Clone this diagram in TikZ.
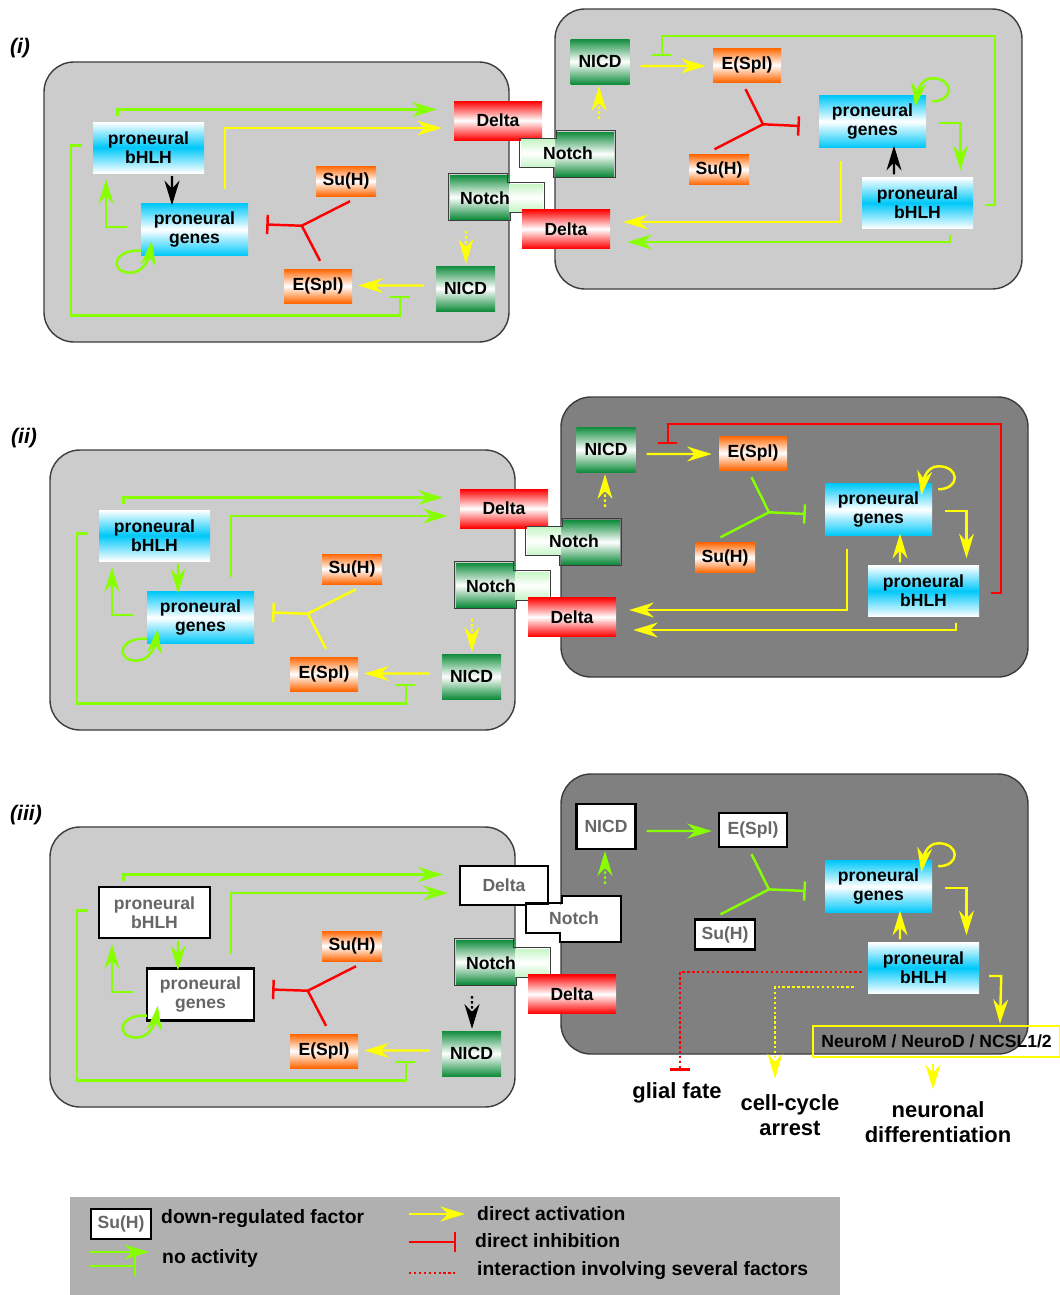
\documentclass[tikz,border=0pt]{standalone}
\usepackage{fontspec}
\setmainfont{Liberation Sans}
\usepackage{tikz}
\usetikzlibrary{arrows.meta}
\usetikzlibrary{calc}
\newcommand{\pxu}{0.02cm}
\definecolor{cellgray}{RGB}{204,204,204}
\definecolor{celldark}{RGB}{128,128,128}
\definecolor{cellline}{RGB}{60,60,60}
\definecolor{actyellow}{RGB}{255,255,0}
\definecolor{offgreen}{RGB}{136,255,0}
\definecolor{inhred}{RGB}{255,0,0}
\definecolor{pcyan}{RGB}{0,200,250}
\definecolor{ngreen}{RGB}{16,140,60}
\definecolor{lgreen}{RGB}{200,245,200}
\definecolor{eorange}{RGB}{255,102,0}
\definecolor{offtext}{RGB}{102,102,102}
\definecolor{legendgray}{RGB}{176,176,176}

\begin{document}
\begin{tikzpicture}[x=0.02cm,y=-0.02cm,line width=1.4pt,
    box/.style={rectangle,inner sep=0pt,align=center,font=\bfseries\fontsize{10}{11}\selectfont},
    off/.style={box,fill=white,draw=black,line width=1.3pt,text=offtext},
    blank/.style={box,fill=white},
    bhlh size/.style={minimum width=111*\pxu,minimum height=51*\pxu},
    genes size/.style={minimum width=107*\pxu,minimum height=52*\pxu},
    delta size/.style={minimum width=88*\pxu,minimum height=39*\pxu},
    notch size/.style={minimum width=59*\pxu,minimum height=44*\pxu},
    ext size/.style={minimum width=34*\pxu,minimum height=27*\pxu},
    nicd size/.style={minimum width=59*\pxu,minimum height=45*\pxu},
    espl size/.style={minimum width=68*\pxu,minimum height=34*\pxu},
    suh size/.style={minimum width=60*\pxu,minimum height=30*\pxu},
    bhlh node/.style={box,bhlh size,top color=white,bottom color=white,middle color=pcyan},
    genes node/.style={box,genes size,top color=pcyan,bottom color=pcyan,middle color=white},
    delta node/.style={box,delta size,top color=inhred,bottom color=inhred,middle color=white},
    notch node/.style={box,notch size,top color=ngreen,bottom color=ngreen,middle color=white},
    ext node/.style={box,ext size,top color=lgreen,bottom color=lgreen,middle color=white},
    nicd node/.style={box,nicd size,top color=ngreen,bottom color=ngreen,middle color=white},
    espl node/.style={box,espl size,top color=eorange,bottom color=eorange,middle color=white},
    suh node/.style={box,suh size,top color=eorange,bottom color=eorange,middle color=white},
    out label/.style={inner sep=0pt,align=center,font=\bfseries\fontsize{12.5}{14}\selectfont},
    legend text/.style={anchor=west,inner sep=0pt,font=\bfseries\fontsize{11}{13}\selectfont},
    panel label/.style={inner sep=0pt,font=\bfseries\itshape\fontsize{12}{14}\selectfont},
    cell/.style={rounded corners=30*\pxu,draw=cellline,line width=0.8pt},
    outline/.style={draw=cellline,line width=0.6pt},
    offline/.style={draw=black,line width=1.3pt},
    act/.style={-{Stealth[length=14pt,width=8.5pt,inset=4.5pt]}},
    inh/.style={-{Bar[width=11pt]}},
    dots/.style={dash pattern=on 1.4pt off 1.4pt},
    gact/.style={act,draw=offgreen}, yact/.style={act,draw=actyellow}, kact/.style={act,draw=black},
    ginh/.style={inh,draw=offgreen}, yinh/.style={inh,draw=actyellow}, rinh/.style={inh,draw=inhred},
    gline/.style={draw=offgreen}, yline/.style={draw=actyellow}, rline/.style={draw=inhred}]
  \useasboundingbox (0,0) rectangle (1060,1295);

  \node[panel label] (labi) at (20,48) {(i)};
  \node[panel label] (labii) at (24,438) {(ii)};
  \node[panel label] (labiii) at (26,815) {(iii)};

  \begin{scope}
    \draw[cell,fill=cellgray] (44,62) rectangle (509,342);
    \draw[cell,fill=cellgray] (555,9) rectangle (1022,289);
    % left cell
    \node[bhlh node] (bhlhL) at (148.5,147.5) {proneural\\bHLH};
    \node[genes node] (genesL) at (194.5,229.5) {proneural\\genes};
    \node[suh node] (suhL) at (346,181) {Su(H)};
    \node[espl node] (esplL) at (318,286) {E(Spl)};
    \node[nicd node] (nicdL) at (465.5,288.5) {NICD};
    \node[delta node] (deltaL) at (498,120.5) {Delta};
    \node[notch node] (notchL) at (479.5,197) {};
    \node[ext node] (notchLx) at (526,197.5) {};
    \draw[outline] (notchL.north west) -| (notchLx.north west) -| (notchLx.south east) -| (notchL.south east) -- (notchL.south west) -- cycle;
    \node[box] (notchLt) at (485,198) {Notch};
    % right cell
    \node[nicd node] (nicdR) at (600,61.5) {NICD};
    \node[espl node] (esplR) at (747,65) {E(Spl)};
    \node[suh node] (suhR) at (719,169.5) {Su(H)};
    \node[genes node] (genesR) at (872.5,121.5) {proneural\\genes};
    \node[bhlh node] (bhlhR) at (917.5,203) {proneural\\bHLH};
    \node[delta node] (deltaR) at (566,229) {Delta};
    \node[notch node] (notchR) at (584.5,154) {};
    \node[ext node] (notchRx) at (538,153) {};
    \draw[outline] (notchR.north east) -| (notchRx.north east) -| (notchRx.south west) -| (notchR.south west) -- (notchR.south east) -- cycle;
    \node[box] (notchRt) at (568,153) {Notch};
    \coordinate (jL) at ($(suhL.south west)+(-13,28.5)$);
    \coordinate (jR) at ($(suhR.north)+(44,-29)$);

    \draw[gact] ($(bhlhL.north)+(-31,-5)$) |- ($(deltaL.west)+(-16,-11)$);
    \draw[yact] ($(genesL.north)+(30.5,-13)$) |- ($(deltaL.west)+(-11,7.5)$);
    \draw[kact] ($(bhlhL.south)+(23.5,2)$) -- ($(genesL.north)+(-22.5,3)$);
    \draw[gact] ($(genesL.west)+(-13,-2.5)$) -| ($(bhlhL.south)+(-42.5,5)$);
    \draw[gact] ($(genesL.south west)+(1,-6)$) .. controls +(-28,-2) and +(-22,0) .. ++(-10,22) .. controls +(14,0) and +(-2,14) .. ++(21,-32);
    \draw[ginh] ($(bhlhL.west)+(-10,-2)$) -- ++(-11,0) -- ++(0,170) -| ($(nicdL.west)+(-35,7)$);
    \draw[yact] ($(nicdL.west)+(-11,-3)$) -- ($(esplL.east)+(5,-0.5)$);
    \draw[yact,dots] ($(notchL.south)+(-13.5,11)$) -- ($(nicdL.north)+(0.5,-1)$);
    \draw[rline] ($(suhL.south)+(4,4)$) -- (jL) -- ($(esplL.north)+(2,-7)$);
    \draw[rinh] (jL) -- ($(genesL.east)+(17,-5)$);

    \draw[yact,dots] ($(notchR.north)+(14.5,-12)$) -- ($(nicdR.south)+(-1,1)$);
    \draw[yact] ($(nicdR.east)+(10,4.5)$) -- ($(esplR.west)+(-6,1)$);
    \draw[ginh] ($(bhlhR.east)+(11,2)$) -- ++(10,0) -- ++(0,-169) -| ($(esplR.west)+(-50,-9)$);
    \draw[rline] ($(esplR.south)+(-1.5,6)$) -- (jR) -- ($(suhR.north)+(-4.5,-4)$);
    \draw[rinh] (jR) -- ($(genesR.west)+(-18,4.5)$);
    \draw[gact] ($(genesR.north east)+(5,7)$) .. controls +(22,0) and +(22,0) .. ++(0,-23) .. controls +(-12,0) and +(2,-14) .. ++(-17,29);
    \draw[gact] ($(genesR.east)+(12,1.5)$) -| ($(bhlhR.north)+(43,-6)$);
    \draw[kact] ($(bhlhR.north)+(-23.5,-2)$) -- ($(genesR.south)+(21.5,-3)$);
    \draw[yact] ($(genesR.south)+(-31.5,12)$) |- ($(deltaR.east)+(12,-7)$);
    \draw[gact] ($(bhlhR.south)+(32.5,5)$) |- ($(deltaR.east)+(16,13)$);
  \end{scope}

  \begin{scope}[shift={(6,388)}]
    \draw[cell,fill=cellgray] (44,62) rectangle (509,342);
    \draw[cell,fill=celldark] (555,9) rectangle (1022,289);
    % left cell
    \node[bhlh node] (bhlhL) at (148.5,147.5) {proneural\\bHLH};
    \node[genes node] (genesL) at (194.5,229.5) {proneural\\genes};
    \node[suh node] (suhL) at (346,181) {Su(H)};
    \node[espl node] (esplL) at (318,286) {E(Spl)};
    \node[nicd node] (nicdL) at (465.5,288.5) {NICD};
    \node[delta node] (deltaL) at (498,120.5) {Delta};
    \node[notch node] (notchL) at (479.5,197) {};
    \node[ext node] (notchLx) at (526,197.5) {};
    \draw[outline] (notchL.north west) -| (notchLx.north west) -| (notchLx.south east) -| (notchL.south east) -- (notchL.south west) -- cycle;
    \node[box] (notchLt) at (485,198) {Notch};
    % right cell
    \node[nicd node] (nicdR) at (600,61.5) {NICD};
    \node[espl node] (esplR) at (747,65) {E(Spl)};
    \node[suh node] (suhR) at (719,169.5) {Su(H)};
    \node[genes node] (genesR) at (872.5,121.5) {proneural\\genes};
    \node[bhlh node] (bhlhR) at (917.5,203) {proneural\\bHLH};
    \node[delta node] (deltaR) at (566,229) {Delta};
    \node[notch node] (notchR) at (584.5,154) {};
    \node[ext node] (notchRx) at (538,153) {};
    \draw[outline] (notchR.north east) -| (notchRx.north east) -| (notchRx.south west) -| (notchR.south west) -- (notchR.south east) -- cycle;
    \node[box] (notchRt) at (568,153) {Notch};
    \coordinate (jL) at ($(suhL.south west)+(-13,28.5)$);
    \coordinate (jR) at ($(suhR.north)+(44,-29)$);

    \draw[gact] ($(bhlhL.north)+(-31,-5)$) |- ($(deltaL.west)+(-16,-11)$);
    \draw[gact] ($(genesL.north)+(30.5,-13)$) |- ($(deltaL.west)+(-11,7.5)$);
    \draw[gact] ($(bhlhL.south)+(23.5,2)$) -- ($(genesL.north)+(-22.5,3)$);
    \draw[gact] ($(genesL.west)+(-13,-2.5)$) -| ($(bhlhL.south)+(-42.5,5)$);
    \draw[gact] ($(genesL.south west)+(1,-6)$) .. controls +(-28,-2) and +(-22,0) .. ++(-10,22) .. controls +(14,0) and +(-2,14) .. ++(21,-32);
    \draw[ginh] ($(bhlhL.west)+(-10,-2)$) -- ++(-11,0) -- ++(0,170) -| ($(nicdL.west)+(-35,7)$);
    \draw[yact] ($(nicdL.west)+(-11,-3)$) -- ($(esplL.east)+(5,-0.5)$);
    \draw[yact,dots] ($(notchL.south)+(-13.5,11)$) -- ($(nicdL.north)+(0.5,-1)$);
    \draw[yline] ($(suhL.south)+(4,4)$) -- (jL) -- ($(esplL.north)+(2,-7)$);
    \draw[yinh] (jL) -- ($(genesL.east)+(17,-5)$);

    \draw[yact,dots] ($(notchR.north)+(14.5,-12)$) -- ($(nicdR.south)+(-1,1)$);
    \draw[yact] ($(nicdR.east)+(10,4.5)$) -- ($(esplR.west)+(-6,1)$);
    \draw[rinh] ($(bhlhR.east)+(11,2)$) -- ++(10,0) -- ++(0,-169) -| ($(esplR.west)+(-50,-9)$);
    \draw[gline] ($(esplR.south)+(-1.5,6)$) -- (jR) -- ($(suhR.north)+(-4.5,-4)$);
    \draw[ginh] (jR) -- ($(genesR.west)+(-18,4.5)$);
    \draw[yact] ($(genesR.north east)+(5,7)$) .. controls +(22,0) and +(22,0) .. ++(0,-23) .. controls +(-12,0) and +(2,-14) .. ++(-17,29);
    \draw[yact] ($(genesR.east)+(12,1.5)$) -| ($(bhlhR.north)+(43,-6)$);
    \draw[yact] ($(bhlhR.north)+(-23.5,-2)$) -- ($(genesR.south)+(21.5,-3)$);
    \draw[yact] ($(genesR.south)+(-31.5,12)$) |- ($(deltaR.east)+(12,-7)$);
    \draw[yact] ($(bhlhR.south)+(32.5,5)$) |- ($(deltaR.east)+(16,13)$);
  \end{scope}

  \begin{scope}[shift={(6,765)}]
    \draw[cell,fill=cellgray] (44,62) rectangle (509,342);
    \draw[cell,fill=celldark] (555,9) rectangle (1022,289);
    % left cell
    \node[off,bhlh size] (bhlhL) at (148.5,147.5) {proneural\\bHLH};
    \node[off,genes size] (genesL) at (194.5,229.5) {proneural\\genes};
    \node[suh node] (suhL) at (346,181) {Su(H)};
    \node[espl node] (esplL) at (318,286) {E(Spl)};
    \node[nicd node] (nicdL) at (465.5,288.5) {NICD};
    \node[off,delta size] (deltaL) at (498,120.5) {Delta};
    \node[notch node] (notchL) at (479.5,197) {};
    \node[ext node] (notchLx) at (526,197.5) {};
    \draw[outline] (notchL.north west) -| (notchLx.north west) -| (notchLx.south east) -| (notchL.south east) -- (notchL.south west) -- cycle;
    \node[box] (notchLt) at (485,198) {Notch};
    % right cell
    \node[off,nicd size] (nicdR) at (600,61.5) {NICD};
    \node[off,espl size] (esplR) at (747,65) {E(Spl)};
    \node[off,suh size] (suhR) at (719,169.5) {Su(H)};
    \node[genes node] (genesR) at (872.5,121.5) {proneural\\genes};
    \node[bhlh node] (bhlhR) at (917.5,203) {proneural\\bHLH};
    \node[delta node] (deltaR) at (566,229) {Delta};
    \node[blank,notch size] (notchR) at (584.5,154) {};
    \node[blank,ext size] (notchRx) at (538,153) {};
    \draw[offline] (notchR.north east) -| (notchRx.north east) -| (notchRx.south west) -| (notchR.south west) -- (notchR.south east) -- cycle;
    \node[box,text=offtext] (notchRt) at (568,153) {Notch};
    \node[box,draw=actyellow,line width=1.2pt,inner xsep=8*\pxu,minimum height=31*\pxu] (neuro) at (930.5,276.5) {NeuroM / NeuroD / NCSL1/2};
    \node[out label] (glial) at (671,328) {glial fate};
    \node[out label] (cycle) at (784,350) {cell-cycle\\arrest};
    \node[out label] (neurodiff) at (932,357) {neuronal\\differentiation};
    \coordinate (jL) at ($(suhL.south west)+(-13,28.5)$);
    \coordinate (jR) at ($(suhR.north)+(44,-29)$);

    \draw[gact] ($(bhlhL.north)+(-31,-5)$) |- ($(deltaL.west)+(-16,-11)$);
    \draw[gact] ($(genesL.north)+(30.5,-13)$) |- ($(deltaL.west)+(-11,7.5)$);
    \draw[gact] ($(bhlhL.south)+(23.5,2)$) -- ($(genesL.north)+(-22.5,3)$);
    \draw[gact] ($(genesL.west)+(-13,-2.5)$) -| ($(bhlhL.south)+(-42.5,5)$);
    \draw[gact] ($(genesL.south west)+(1,-6)$) .. controls +(-28,-2) and +(-22,0) .. ++(-10,22) .. controls +(14,0) and +(-2,14) .. ++(21,-32);
    \draw[ginh] ($(bhlhL.west)+(-10,-2)$) -- ++(-11,0) -- ++(0,170) -| ($(nicdL.west)+(-35,7)$);
    \draw[yact] ($(nicdL.west)+(-11,-3)$) -- ($(esplL.east)+(5,-0.5)$);
    \draw[kact,dots] ($(notchL.south)+(-13.5,11)$) -- ($(nicdL.north)+(0.5,-1)$);
    \draw[rline] ($(suhL.south)+(4,4)$) -- (jL) -- ($(esplL.north)+(2,-7)$);
    \draw[rinh] (jL) -- ($(genesL.east)+(17,-5)$);

    \draw[gact,dots] ($(notchR.north)+(14.5,-12)$) -- ($(nicdR.south)+(-1,1)$);
    \draw[gact] ($(nicdR.east)+(10,4.5)$) -- ($(esplR.west)+(-6,1)$);
    \draw[gline] ($(esplR.south)+(-1.5,6)$) -- (jR) -- ($(suhR.north)+(-4.5,-4)$);
    \draw[ginh] (jR) -- ($(genesR.west)+(-18,4.5)$);
    \draw[yact] ($(genesR.north east)+(5,7)$) .. controls +(22,0) and +(22,0) .. ++(0,-23) .. controls +(-12,0) and +(2,-14) .. ++(-17,29);
    \draw[yact] ($(genesR.east)+(12,1.5)$) -| ($(bhlhR.north)+(43,-6)$);
    \draw[yact] ($(bhlhR.north)+(-23.5,-2)$) -- ($(genesR.south)+(21.5,-3)$);
    \draw[yact] ($(bhlhR.east)+(9,8)$) -- ++(12,0) -- ($(neuro.north)+(63.5,-1)$);
    \draw[rinh,dots] ($(bhlhR.west)+(-5,4)$) -| ($(glial.north)+(3,-11)$);
    \draw[yact,dots] ($(bhlhR.west)+(-13,19)$) -| ($(cycle.north)+(-15,-15)$);
    \draw[yact] ($(neuro.south)+(-3.5,6)$) -- ($(neurodiff.north)+(-5,-11)$);
  \end{scope}

  % legend
  \fill[legendgray] (70,1197) rectangle (840,1300);
  \node[off,suh size,line width=1pt] (legoff) at (121,1224) {Su(H)};
  \node[legend text] (legdown) at (160,1219) {down-regulated factor};
  \node[legend text] (legnone) at (161,1258) {no activity};
  \node[legend text] (legact) at (476,1214) {direct activation};
  \node[legend text] (leginh) at (474,1241) {direct inhibition};
  \node[legend text] (legmix) at (476,1271) {interaction involving several factors};
  \draw[gact] ($(legnone.west)+(-71,-6)$) -- ($(legnone.west)+(-12,-6)$);
  \draw[ginh] ($(legnone.west)+(-71,8)$) -- ($(legnone.west)+(-25,8)$);
  \draw[yact] ($(legact.west)+(-67,0)$) -- ($(legact.west)+(-11,0)$);
  \draw[rinh] ($(leginh.west)+(-65,1)$) -- ($(leginh.west)+(-18,1)$);
  \draw[rline,dots] ($(legmix.west)+(-67,2)$) -- ($(legmix.west)+(-21,2)$);
\end{tikzpicture}
\end{document}
